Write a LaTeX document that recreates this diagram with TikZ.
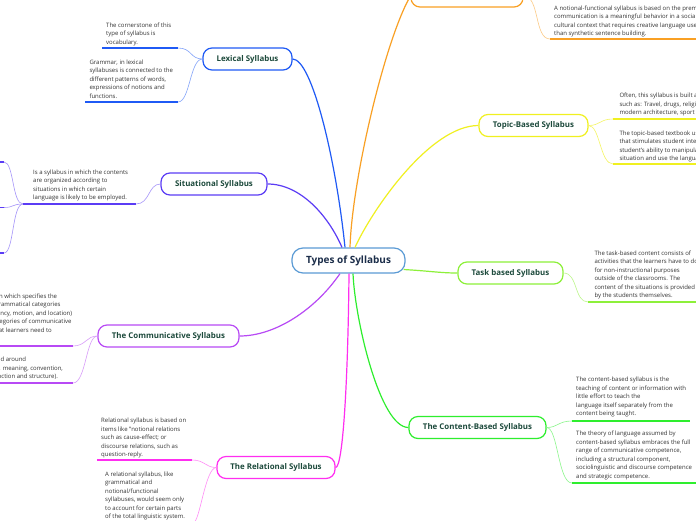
\documentclass[tikz,border=0pt]{standalone}
\usepackage{fontspec}
\setmainfont{Open Sans}
\definecolor{cblue}{HTML}{1F5AF5}
\definecolor{cviolet}{HTML}{5B3CF5}
\definecolor{corange}{HTML}{F9A024}
\definecolor{cyellow}{HTML}{F0F020}
\definecolor{clgreen}{HTML}{8DF03A}
\definecolor{cgreen}{HTML}{2EEE2E}
\definecolor{cmagenta}{HTML}{FF2EF0}
\definecolor{cpurple}{HTML}{B84AF5}
\definecolor{ccenter}{HTML}{5B9BD5}
\definecolor{nodetext}{HTML}{1D4A3C}
\definecolor{ctrtext}{HTML}{1C2E4A}
\definecolor{leaftext}{HTML}{333333}
\begin{document}
\begin{tikzpicture}[x=1pt,y=-1pt,
  mainbox/.style={draw, line width=1.2pt, rounded corners=9pt, fill=white,
    font=\fontsize{7.9}{9}\selectfont\bfseries, text=nodetext, inner sep=0pt,
    minimum height=22pt},
  leaf/.style={anchor=north west, inner sep=0pt, align=left,
    font=\fontsize{6}{8.5}\selectfont, text=leaftext},
  uline/.style={line width=1.8pt},
  thinc/.style={line width=0.6pt},
  conn/.style={line width=1.2pt}]
\useasboundingbox[fill=white] (0,0) rectangle (696,520);

% main nodes
\node[mainbox, draw=ccenter, text=ctrtext, font=\fontsize{10}{12}\selectfont\bfseries,
  minimum width=113pt, minimum height=25pt, rounded corners=11pt] (ctr) at (348.5,260.5) {Types of Syllabus};
\node[mainbox, draw=cblue, minimum width=89pt] (lex) at (247.5,59) {Lexical Syllabus};
\node[mainbox, draw=corange, minimum width=112pt] (nf) at (467,-4) {The Notional Syllabus};
\node[mainbox, draw=cyellow, minimum width=109pt] (topic) at (533.5,125.5) {Topic-Based Syllabus};
\node[mainbox, draw=clgreen, minimum width=105pt] (task) at (510.5,273) {Task based Syllabus};
\node[mainbox, draw=cgreen, minimum width=137pt] (content) at (477.5,427.5) {The Content-Based Syllabus};
\node[mainbox, draw=cmagenta, minimum width=118pt] (rel) at (276,467.5) {The Relational Syllabus};
\node[mainbox, draw=cpurple, minimum width=141pt] (comm) at (168.5,336) {The Communicative Syllabus};
\node[mainbox, draw=cviolet, minimum width=106pt] (sit) at (214,184) {Situational Syllabus};

% leaf texts
\node[leaf] (lexA) at (106,22.6) {The cornerstone of this\\type of syllabus is\\vocabulary.};
\node[leaf] (lexB) at (89.3,59.6) {Grammar, in lexical\\syllabuses is connected to the\\different patterns of words,\\expressions of notions and\\functions.};
\node[leaf] (nfA) at (554,5.3) {A notional-functional syllabus is based on the premise that\\communication is a meaningful behavior in a social and\\cultural context that requires creative language use rather\\than synthetic sentence building.};
\node[leaf] (topA) at (619.3,92.9) {Often, this syllabus is built around topics\\such as: Travel, drugs, religion,\\modern architecture, sport and so on.};
\node[leaf] (topB) at (619.3,130.3) {The topic-based textbook uses content\\that stimulates student interest and the\\student's ability to manipulate the\\situation and use the language.};
\node[leaf] (taskA) at (594.3,250.3) {The task-based content consists of\\activities that the learners have to do\\for non-instructional purposes\\outside of the classrooms. The\\content of the situations is provided\\by the students themselves.};
\node[leaf] (conA) at (576,376.9) {The content-based syllabus is the\\teaching of content or information with\\little effort to teach the\\language itself separately from the\\content being taught.};
\node[leaf] (conB) at (576,430.9) {The theory of language assumed by\\content-based syllabus embraces the full\\range of communicative competence,\\including a structural component,\\sociolinguistic and discourse competence\\and strategic competence.};
\node[leaf] (relA) at (101,417.9) {Relational syllabus is based on\\items like "notional relations\\such as cause-effect; or\\discourse relations, such as\\question-reply.};
\node[leaf] (relB) at (105,471.3) {A relational syllabus, like\\grammatical and\\notional/functional\\syllabuses, would seem only\\to account for certain parts\\of the total linguistic system.};
\node[leaf] (comA) at (-32,293.6) {A syllabus in which specifies the\\semantic-grammatical categories\\(e.g. frequency, motion, and location)\\and the categories of communicative\\function that learners need to\\express.};
\node[leaf] (comB) at (-32,356.9) {It is centered around\\notions (i.e. meaning, convention,\\context, function and structure).};
\node[leaf] (sitA) at (33,169.3) {Is a syllabus in which the contents\\are organized according to\\situations in which certain\\language is likely to be employed.};

% coordinates
\coordinate (cSit) at ([xshift=-6.5pt]ctr.north);
\coordinate (cLex) at ([xshift=-3.5pt]ctr.north);
\coordinate (cNf) at ([xshift=1.5pt]ctr.north);
\coordinate (cTop) at ([xshift=6.5pt]ctr.north);
\coordinate (cComm) at ([xshift=-8.5pt]ctr.south);
\coordinate (cRel) at ([xshift=0.5pt]ctr.south);
\coordinate (cCon) at ([xshift=4.5pt]ctr.south);
\coordinate (cTask) at ([xshift=-2pt,yshift=-9pt]ctr.east);

\coordinate (lexA1) at (178,48);   \coordinate (lexA0) at (102,48);
\coordinate (lexB1) at (178,102);  \coordinate (lexB0) at (85,102);
\coordinate (nfA0) at (550,39);    \coordinate (nfA1) at (720,39);
\coordinate (topA0) at (613,119);  \coordinate (topA1) at (720,119);
\coordinate (topB0) at (613,164);  \coordinate (topB1) at (720,164);
\coordinate (taskA0) at (588,302); \coordinate (taskA1) at (720,302);
\coordinate (conA0) at (572,421);  \coordinate (conA1) at (690,421);
\coordinate (conB0) at (572,483);  \coordinate (conB1) at (720,483);
\coordinate (relA1) at (192,460);  \coordinate (relA0) at (97,460);
\coordinate (relB1) at (193,523);  \coordinate (relB0) at (101,523);
\coordinate (comA1) at (73,346);   \coordinate (comA0) at (-38,346);
\coordinate (comB1) at (73,383);   \coordinate (comB0) at (-38,383);
\coordinate (sitA1) at (136,204);  \coordinate (sitA0) at (23,204);
\coordinate (s1b) at (4,162);   \coordinate (s1a) at (-20,162);
\coordinate (s2b) at (4,207.5); \coordinate (s2a) at (-20,207.5);
\coordinate (s3b) at (4,253);   \coordinate (s3a) at (-20,253);

% main connectors
\draw[conn, cblue] (lex.east) .. controls (312,59) and (336,160) .. (cLex);
\draw[conn, corange] (cNf) .. controls (352,180) and (385,40) .. (nf.west);
\draw[conn, cyellow] (cTop) .. controls (372,210) and (430,125.5) .. (topic.west);
\draw[conn, clgreen] (cTask) .. controls (430,271) and (440,273) .. (task.west);
\draw[conn, cgreen] (cCon) .. controls (355,320) and (380,427.5) .. (content.west);
\draw[conn, cmagenta] (cRel) .. controls (348,380) and (343,467.5) .. (rel.east);
\draw[conn, cpurple] (cComm) .. controls (315,310) and (275,336) .. (comm.east);
\draw[conn, cviolet] (sit.east) .. controls (300,184) and (328,215) .. (cSit);

% leaf connectors
\draw[thinc, cblue!55] (lex.west) .. controls (190,59) and (192,48) .. (lexA1);
\draw[thinc, cblue!55] (lex.west) .. controls (190,59) and (190,102) .. (lexB1);
\draw[thinc, cviolet!55] (sit.west) .. controls (148,184) and (150,204) .. (sitA1);
\draw[thinc, cviolet!55] (sitA0) .. controls (12,204) and (14,162) .. (s1b);
\draw[thinc, cviolet!55] (sitA0) .. controls (12,204) and (14,207.5) .. (s2b);
\draw[thinc, cviolet!55] (sitA0) .. controls (12,204) and (14,253) .. (s3b);
\draw[thinc, corange!55] (nf.east) .. controls (540,-4) and (534,39) .. (nfA0);
\draw[thinc, cyellow!70] (topic.east) .. controls (600,125.5) and (600,119) .. (topA0);
\draw[thinc, cyellow!70] (topic.east) .. controls (600,125.5) and (600,164) .. (topB0);
\draw[thinc, clgreen!60] (task.east) .. controls (578,273) and (574,302) .. (taskA0);
\draw[thinc, cgreen!55] (content.east) .. controls (558,427.5) and (558,421) .. (conA0);
\draw[thinc, cgreen!55] (content.east) .. controls (558,427.5) and (558,483) .. (conB0);
\draw[thinc, cmagenta!55] (rel.west) .. controls (205,467.5) and (205,460) .. (relA1);
\draw[thinc, cmagenta!55] (rel.west) .. controls (205,467.5) and (200,523) .. (relB1);
\draw[thinc, cpurple!55] (comm.west) .. controls (86,336) and (86,346) .. (comA1);
\draw[thinc, cpurple!55] (comm.west) .. controls (86,336) and (86,383) .. (comB1);

% underlines
\draw[uline, cblue] (lexA0) -- (lexA1);
\draw[uline, cblue] (lexB0) -- (lexB1);
\draw[uline, corange] (nfA0) -- (nfA1);
\draw[uline, cyellow] (topA0) -- (topA1);
\draw[uline, cyellow] (topB0) -- (topB1);
\draw[uline, clgreen] (taskA0) -- (taskA1);
\draw[uline, cgreen] (conA0) -- (conA1);
\draw[uline, cgreen] (conB0) -- (conB1);
\draw[uline, cmagenta] (relA0) -- (relA1);
\draw[uline, cmagenta] (relB0) -- (relB1);
\draw[uline, cpurple] (comA0) -- (comA1);
\draw[uline, cpurple] (comB0) -- (comB1);
\draw[uline, cviolet] (sitA0) -- (sitA1);
\draw[uline, cviolet] (s1a) -- (s1b);
\draw[uline, cviolet] (s2a) -- (s2b);
\draw[uline, cviolet] (s3a) -- (s3b);
\end{tikzpicture}
\end{document}
